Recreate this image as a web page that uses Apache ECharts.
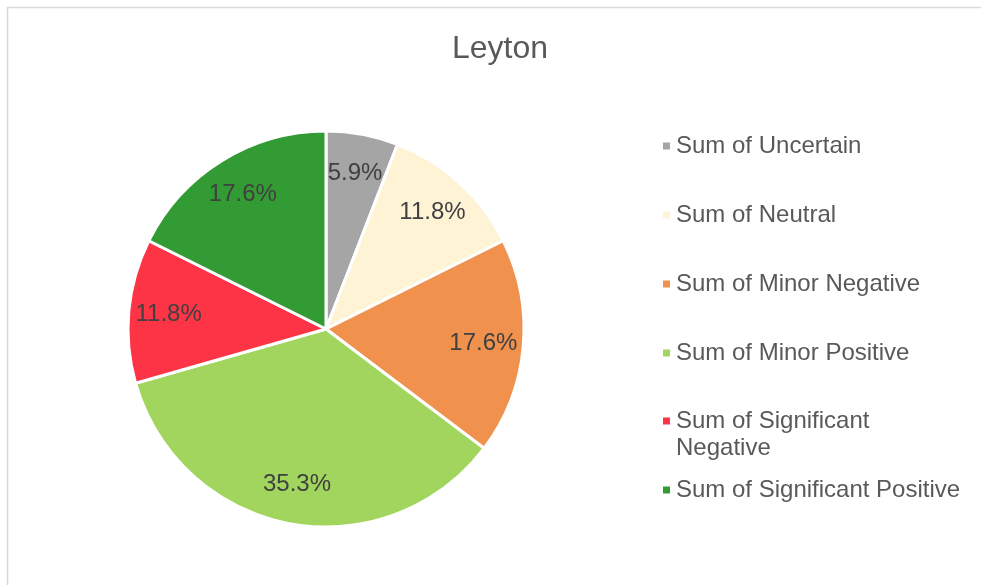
<!DOCTYPE html>
<html>
<head>
    <meta charset="utf-8">
    <title>Leyton</title>
    <script src="https://cdn.jsdelivr.net/npm/echarts/dist/echarts.min.js"></script>
    <style>
        html, body { margin: 0; padding: 0; background: #fff; }
    </style>
</head>
<body>
<div id="chart-container" style="width: 981px; height: 585px;"></div>
<script>
    // categories and counts
    var categories = ['Sum of Uncertain', 'Sum of Neutral', 'Sum of Minor Negative',
        'Sum of Minor Positive', 'Sum of Significant Negative', 'Sum of Significant Positive'];
    var values = [1, 2, 3, 6, 2, 3];
    var colors = ['#a5a5a5', '#fff3d6', '#f0914e', '#a2d55e', '#fc3446', '#339b34'];

    var pieData = categories.map(function(name, i) {
        return { name: name, value: values[i], itemStyle: { color: colors[i] } };
    });

    var fontFamily = '"Liberation Sans", Arial, sans-serif';

    var legendText = {
        color: '#595959',
        fontSize: 24,
        lineHeight: 27,
        fontFamily: fontFamily
    };

    function legendBox(top, items) {
        return {
            orient: 'vertical',
            left: 656,
            top: top,
            itemWidth: 9,
            itemHeight: 9,
            itemGap: 42,
            icon: 'rect',
            data: items,
            formatter: function(name) {
                // blank first line keeps the square level with the first text line
                return name === 'Sum of Significant Negative' ? ' \nSum of Significant\nNegative' : name;
            },
            textStyle: legendText
        };
    }

    var option = {
        backgroundColor: '#fff',
        animation: false,
        title: {
            text: 'Leyton',
            left: 495,
            textAlign: 'center',
            top: 28,
            textStyle: {
                color: '#595959',
                fontSize: 32,
                fontWeight: 'normal',
                fontFamily: fontFamily
            }
        },
        graphic: [{
            type: 'rect',
            shape: { x: 7.5, y: 7.5, width: 2000, height: 2000 },
            style: { fill: 'none', stroke: '#d9d9d9', lineWidth: 1.5 },
            silent: true
        }],
        legend: [
            legendBox(127.5, categories.slice(0, 4)),
            legendBox(375.5, [categories[4]]),
            legendBox(471.5, [categories[5]])
        ],
        series: [{
            name: 'Leyton',
            type: 'pie',
            center: [326, 329],
            radius: [0, 198],
            startAngle: 90,
            clockwise: true,
            silent: true,
            label: { show: false },
            labelLine: { show: false },
            itemStyle: {
                borderColor: '#fff',
                borderWidth: 3
            },
            data: pieData
        }, {
            // transparent ring used only to place the percentage labels
            name: 'labels',
            type: 'pie',
            center: [326, 329],
            radius: [112, 198],
            startAngle: 90,
            clockwise: true,
            silent: true,
            percentPrecision: 1,
            itemStyle: { color: 'rgba(0,0,0,0)', borderWidth: 0 },
            label: {
                show: true,
                position: 'inside',
                formatter: function(p) { return p.percent.toFixed(1) + '%'; },
                color: '#404040',
                fontSize: 24,
                fontFamily: fontFamily
            },
            labelLine: { show: false },
            data: pieData.map(function(d) {
                return { name: d.name, value: d.value };
            })
        }]
    };

    var chart = echarts.init(document.getElementById('chart-container'));
    chart.setOption(option);
</script>
</body>
</html>
